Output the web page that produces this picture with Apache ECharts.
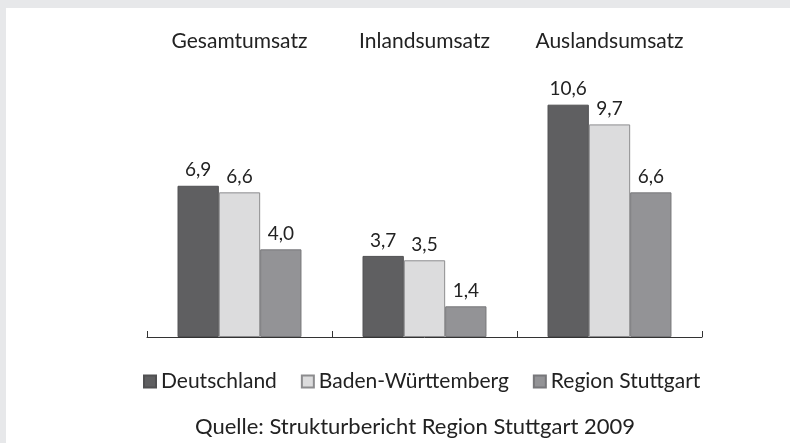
<!DOCTYPE html>
<html>
<head>
<meta charset="utf-8">
<script src="https://cdn.jsdelivr.net/npm/echarts@6/dist/echarts.min.js"></script>
<style>
  html, body { margin: 0; padding: 0; background: #e7e8ea; }
  #chart { width: 790px; height: 443px; }
</style>
</head>
<body>
<div id="chart"></div>
<script>
  var categories = ['Gesamtumsatz', 'Inlandsumsatz', 'Auslandsumsatz'];
  var deutschland = [6.9, 3.7, 10.6];
  var badenWuerttemberg = [6.6, 3.5, 9.7];
  var regionStuttgart = [4.0, 1.4, 6.6];
  var seriesNames = ['Deutschland', 'Baden-Württemberg', 'Region Stuttgart'];
  var sourceText = 'Quelle: Strukturbericht Region Stuttgart 2009';

  var font = 'Lato';

  function makeSeries(name, data, color, border) {
    return {
      name: name,
      type: 'bar',
      data: data,
      barGap: '0%',
      barCategoryGap: '33%',
      itemStyle: {
        color: color,
        borderColor: border,
        borderWidth: 1
      },
      label: {
        show: true,
        position: 'top',
        distance: 6,
        color: '#222',
        fontFamily: font,
        fontSize: 19,
        formatter: function (p) {
          return p.value.toFixed(1).replace('.', ',');
        }
      }
    };
  }

  var chart = echarts.init(document.getElementById('chart'));
  chart.setOption({
    backgroundColor: '#e7e8ea',
    animation: false,
    graphic: [
      {
        type: 'rect',
        z: -10,
        shape: { x: 6, y: 8, width: 784, height: 435 },
        style: { fill: '#ffffff' }
      }
    ],
    title: {
      text: sourceText,
      left: 410,
      top: 411,
      textAlign: 'center',
      textStyle: {
        fontFamily: font,
        fontSize: 22,
        fontWeight: 'normal',
        color: '#222'
      }
    },
    legend: {
      data: seriesNames,
      left: 143,
      top: 371,
      padding: 0,
      icon: 'rect',
      itemWidth: 12,
      itemHeight: 12,
      itemGap: 24,
      textStyle: {
        fontFamily: font,
        fontSize: 21,
        color: '#222'
      }
    },
    grid: {
      left: 147,
      right: 88,
      top: 74,
      bottom: 106
    },
    xAxis: [
      {
        type: 'category',
        data: categories,
        position: 'bottom',
        axisLine: { lineStyle: { color: '#333', width: 1 } },
        axisTick: { show: true, inside: true, length: 6, lineStyle: { color: '#333' } },
        axisLabel: { show: false }
      },
      {
        type: 'category',
        data: categories,
        position: 'top',
        axisLine: { show: false },
        axisTick: { show: false },
        axisLabel: {
          interval: 0,
          margin: 22,
          fontFamily: font,
          fontSize: 21,
          color: '#222'
        }
      }
    ],
    yAxis: {
      type: 'value',
      min: 0,
      max: 12,
      show: false
    },
    series: [
      makeSeries(seriesNames[0], deutschland, '#5f5f61', '#505052'),
      makeSeries(seriesNames[1], badenWuerttemberg, '#dcdcdd', '#8c8c8e'),
      makeSeries(seriesNames[2], regionStuttgart, '#939396', '#77777a')
    ]
  });
</script>
</body>
</html>
